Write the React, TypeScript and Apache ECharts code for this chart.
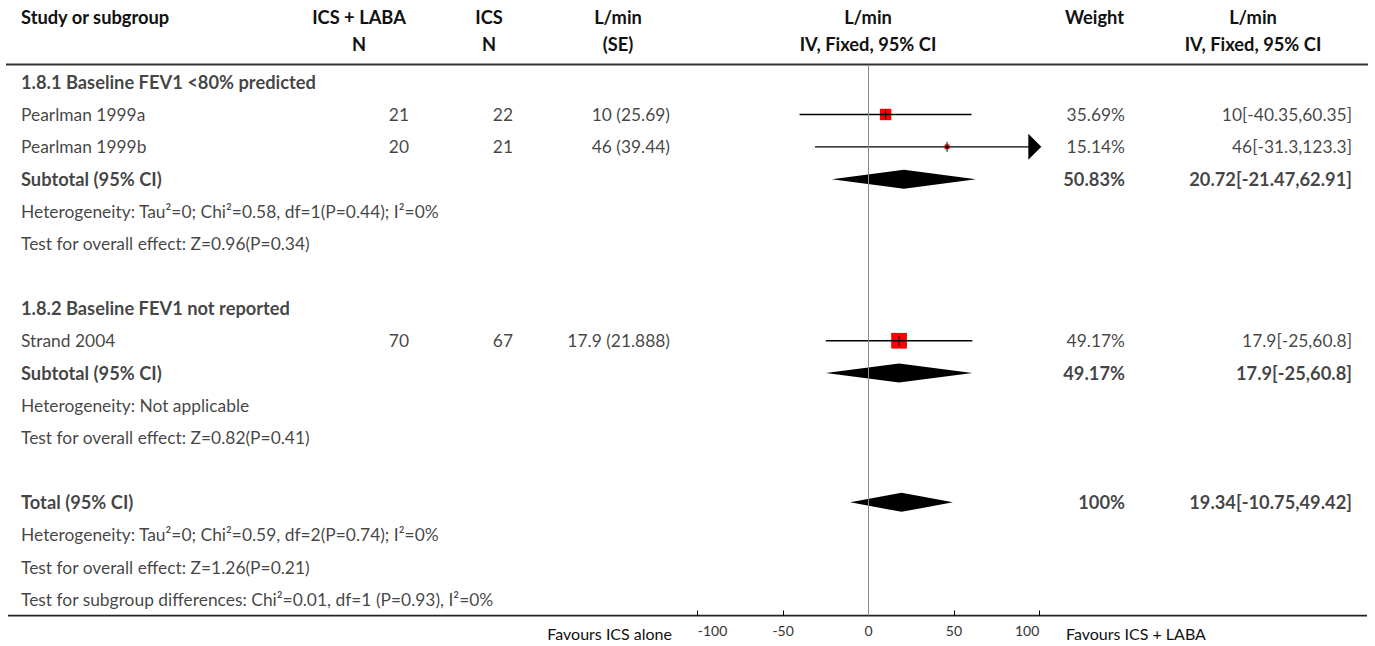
import React, { useEffect, useRef } from "react";
import * as echarts from "echarts";

// ---- study-level data ----
const studyNames = ["Pearlman 1999a", "Pearlman 1999b", "Strand 2004"];
const nIcsLaba = [21, 20, 70];
const nIcsAlone = [22, 21, 67];
const meanDiff = [10, 46, 17.9];
const stdError = [25.69, 39.44, 21.888];
const ciLower = [-40.35, -31.3, -25];
const ciUpper = [60.35, 123.3, 60.8];
const studyWeight = [35.69, 15.14, 49.17];

// ---- pooled estimates (two subtotals and the total) ----
const pooledLabels = ["Subtotal (95% CI)", "Subtotal (95% CI)", "Total (95% CI)"];
const pooledEstimate = [20.72, 17.9, 19.34];
const pooledLower = [-21.47, -25, -10.75];
const pooledUpper = [62.91, 60.8, 49.42];
const pooledWeight = [50.83, 49.17, 100];

// ---- text rows ----
const subgroupTitles = ["1.8.1 Baseline FEV1 <80% predicted", "1.8.2 Baseline FEV1 not reported"];
const heterogeneityNotes = [
  "Heterogeneity: Tau²=0; Chi²=0.58, df=1(P=0.44); I²=0%",
  "Heterogeneity: Not applicable",
  "Heterogeneity: Tau²=0; Chi²=0.59, df=2(P=0.74); I²=0%",
];
const overallEffectNotes = [
  "Test for overall effect: Z=0.96(P=0.34)",
  "Test for overall effect: Z=0.82(P=0.41)",
  "Test for overall effect: Z=1.26(P=0.21)",
];
const subgroupDiffNote = "Test for subgroup differences: Chi²=0.01, df=1 (P=0.93), I²=0%";

// ---- axis ----
const axisMin = -100;
const axisMax = 100;
const axisStep = 50;
const favoursLeft = "Favours ICS alone";
const favoursRight = "Favours ICS + LABA";

type Row = { kind: "title" | "study" | "pooled" | "note" | "blank"; idx?: number; text?: string };

const rows: Row[] = [
  { kind: "title", text: subgroupTitles[0] },
  { kind: "study", idx: 0 },
  { kind: "study", idx: 1 },
  { kind: "pooled", idx: 0 },
  { kind: "note", text: heterogeneityNotes[0] },
  { kind: "note", text: overallEffectNotes[0] },
  { kind: "blank" },
  { kind: "title", text: subgroupTitles[1] },
  { kind: "study", idx: 2 },
  { kind: "pooled", idx: 1 },
  { kind: "note", text: heterogeneityNotes[1] },
  { kind: "note", text: overallEffectNotes[1] },
  { kind: "blank" },
  { kind: "pooled", idx: 2 },
  { kind: "note", text: heterogeneityNotes[2] },
  { kind: "note", text: overallEffectNotes[2] },
  { kind: "note", text: subgroupDiffNote },
];

const W = 1375;
const H = 646;
const FONT = "Lato";
const FS = 17.4;
const FS_BOLD = 18.3;
const INK = "#111";
const GRID_TOP = 66;
const GRID_H = 549.5;
const PLOT_LEFT = 697.7;
const PLOT_RIGHT = 1039.3;

// table columns: x anchor and alignment
const columns = [
  { key: "label", x: 21, align: "left" },
  { key: "nA", x: 409, align: "right" },
  { key: "nB", x: 513, align: "right" },
  { key: "md", x: 670, align: "right" },
  { key: "weight", x: 1125, align: "right" },
  { key: "ci", x: 1352, align: "right" },
];

function cellText(row: Row, key: string): { text: string; bold: boolean } | null {
  const i = row.idx as number;
  if (row.kind === "title") return key === "label" ? { text: row.text as string, bold: true } : null;
  if (row.kind === "note") return key === "label" ? { text: row.text as string, bold: false } : null;
  if (row.kind === "study") {
    switch (key) {
      case "label": return { text: studyNames[i], bold: false };
      case "nA": return { text: String(nIcsLaba[i]), bold: false };
      case "nB": return { text: String(nIcsAlone[i]), bold: false };
      case "md": return { text: `${meanDiff[i]} (${stdError[i]})`, bold: false };
      case "weight": return { text: `${studyWeight[i]}%`, bold: false };
      case "ci": return { text: `${meanDiff[i]}[${ciLower[i]},${ciUpper[i]}]`, bold: false };
    }
  }
  if (row.kind === "pooled") {
    switch (key) {
      case "label": return { text: pooledLabels[i], bold: true };
      case "weight": return { text: `${pooledWeight[i]}%`, bold: true };
      case "ci": return { text: `${pooledEstimate[i]}[${pooledLower[i]},${pooledUpper[i]}]`, bold: true };
    }
  }
  return null;
}

function buildOption(): echarts.EChartsOption {
  const tableSeries: any[] = columns.map((col) => {
    const data: any[] = [];
    rows.forEach((row, r) => {
      const c = cellText(row, col.key);
      if (!c) return;
      data.push({
        name: c.text,
        value: [col.x, r],
        label: c.bold ? { fontWeight: "bold", fontSize: FS_BOLD } : { fontWeight: "normal", fontSize: FS },
      });
    });
    return {
      type: "scatter",
      xAxisIndex: 1,
      yAxisIndex: 1,
      symbolSize: 1,
      itemStyle: { color: "rgba(0,0,0,0)" },
      silent: true,
      data,
      label: {
        show: true,
        position: "inside",
        align: col.align,
        verticalAlign: "middle",
        formatter: "{b}",
        color: INK,
        fontFamily: FONT,
        fontSize: FS,
      },
      z: 5,
    };
  });

  const studyData = rows
    .map((row, r) => (row.kind === "study" ? [r, meanDiff[row.idx!], ciLower[row.idx!], ciUpper[row.idx!], studyWeight[row.idx!]] : null))
    .filter(Boolean);

  const pooledData = rows
    .map((row, r) => (row.kind === "pooled" ? [r, pooledEstimate[row.idx!], pooledLower[row.idx!], pooledUpper[row.idx!]] : null))
    .filter(Boolean);

  const studySeries = {
    type: "custom",
    xAxisIndex: 0,
    yAxisIndex: 0,
    clip: false,
    silent: true,
    z: 2,
    encode: { x: [1, 2, 3], y: 0 },
    data: studyData,
    renderItem: (_params: any, api: any) => {
      const r = api.value(0);
      const est = api.value(1);
      const lo = api.value(2);
      const hi = api.value(3);
      const w = api.value(4);
      const y = api.coord([0, r])[1];
      const xLo = api.coord([Math.max(lo, axisMin), r])[0];
      const xEst = api.coord([est, r])[0];
      const clipped = hi > axisMax;
      const tipX = api.coord([axisMax, r])[0] + 2;
      const xHi = clipped ? tipX - 12 : api.coord([hi, r])[0];
      const side = w * 0.32;
      const children: any[] = [
        {
          type: "rect",
          shape: { x: xEst - side / 2, y: y - side / 2, width: side, height: side },
          style: { fill: "#ff0000" },
        },
        {
          type: "line",
          shape: { x1: xLo, y1: y, x2: xHi, y2: y },
          style: { stroke: "#000", lineWidth: 1.3 },
        },
        {
          type: "line",
          shape: { x1: xEst, y1: y - 5, x2: xEst, y2: y + 5 },
          style: { stroke: "#000", lineWidth: 1 },
        },
      ];
      if (clipped) {
        children.push({
          type: "polygon",
          shape: { points: [[tipX, y], [tipX - 13, y - 13], [tipX - 13, y + 13]] },
          style: { fill: "#000" },
        });
      }
      return { type: "group", children };
    },
  };

  const pooledSeries = {
    type: "custom",
    xAxisIndex: 0,
    yAxisIndex: 0,
    clip: false,
    silent: true,
    z: 2,
    encode: { x: [1, 2, 3], y: 0 },
    data: pooledData,
    renderItem: (_params: any, api: any) => {
      const r = api.value(0);
      const y = api.coord([0, r])[1];
      const xEst = api.coord([api.value(1), r])[0];
      const xLo = api.coord([api.value(2), r])[0];
      const xHi = api.coord([api.value(3), r])[0];
      const h = 9.5;
      return {
        type: "polygon",
        shape: { points: [[xLo, y], [xEst, y - h], [xHi, y], [xEst, y + h]] },
        style: { fill: "#000" },
      };
    },
  };

  const zeroLine = {
    type: "line",
    xAxisIndex: 0,
    yAxisIndex: 0,
    data: [],
    silent: true,
    z: 4,
    markLine: {
      silent: true,
      symbol: "none",
      label: { show: false },
      lineStyle: { color: "#8a8a8a", width: 1, type: "solid" },
      data: [{ xAxis: 0 }],
    },
  };

  const headerText = (text: string, x: number, y: number, align: string) => ({
    type: "text",
    silent: true,
    style: {
      text,
      x,
      y,
      textAlign: align,
      textVerticalAlign: "middle",
      verticalAlign: "middle",
      font: `bold ${FS_BOLD}px ${FONT}`,
      fill: INK,
    },
  });

  const plainText = (text: string, x: number, y: number, align: string) => ({
    type: "text",
    silent: true,
    style: {
      text,
      x,
      y,
      textAlign: align,
      textVerticalAlign: "middle",
      verticalAlign: "middle",
      font: `16px ${FONT}`,
      fill: INK,
    },
  });

  return {
    animation: false,
    backgroundColor: "#fff",
    grid: [
      { left: PLOT_LEFT, right: W - PLOT_RIGHT, top: GRID_TOP, height: GRID_H },
      { left: 0, right: 0, top: GRID_TOP, height: GRID_H },
    ],
    xAxis: [
      {
        type: "value",
        gridIndex: 0,
        position: "bottom",
        min: axisMin,
        max: axisMax,
        interval: axisStep,
        splitLine: { show: false },
        axisLine: { show: false, onZero: false },
        axisTick: { show: true, inside: true, length: 5, lineStyle: { color: "#000", width: 1 } },
        axisLabel: {
          color: "#333",
          fontFamily: FONT,
          fontSize: 14,
          margin: 8,
          alignMinLabel: "left",
          alignMaxLabel: "right",
        },
      },
      { type: "value", gridIndex: 1, min: 0, max: W, show: false },
    ],
    yAxis: [
      { type: "value", gridIndex: 0, min: -0.5, max: rows.length - 0.5, inverse: true, show: false },
      { type: "value", gridIndex: 1, min: -0.5, max: rows.length - 0.5, inverse: true, show: false },
    ],
    graphic: [
      headerText("Study or subgroup", 21, 17, "left"),
      headerText("ICS + LABA", 359, 17, "center"),
      headerText("N", 359, 44, "center"),
      headerText("ICS", 489, 17, "center"),
      headerText("N", 489, 44, "center"),
      headerText("L/min", 618, 17, "center"),
      headerText("(SE)", 618, 44, "center"),
      headerText("L/min", 868, 17, "center"),
      headerText("IV, Fixed, 95% CI", 868, 44, "center"),
      headerText("Weight", 1094.5, 17, "center"),
      headerText("L/min", 1253, 17, "center"),
      headerText("IV, Fixed, 95% CI", 1253, 44, "center"),
      {
        type: "line",
        silent: true,
        shape: { x1: 6, y1: 64.5, x2: 1368, y2: 64.5 },
        style: { stroke: "#333", lineWidth: 2 },
      },
      {
        type: "line",
        silent: true,
        shape: { x1: 8, y1: 615.7, x2: 1367, y2: 615.7 },
        style: { stroke: "#222", lineWidth: 1.8 },
      },
      plainText(favoursLeft, 672, 633, "right"),
      plainText(favoursRight, 1066, 633, "left"),
    ],
    series: [pooledSeries, studySeries, zeroLine, ...tableSeries] as any,
  };
}

export default function App() {
  const ref = useRef<HTMLDivElement>(null);
  useEffect(() => {
    if (!ref.current) return;
    const chart = echarts.init(ref.current, undefined, { renderer: "svg", width: W, height: H });
    chart.setOption(buildOption());
    return () => chart.dispose();
  }, []);
  return (
    <div
      ref={ref}
      style={{ position: "fixed", left: 0, top: 0, width: W, height: H, background: "#fff" }}
    />
  );
}
